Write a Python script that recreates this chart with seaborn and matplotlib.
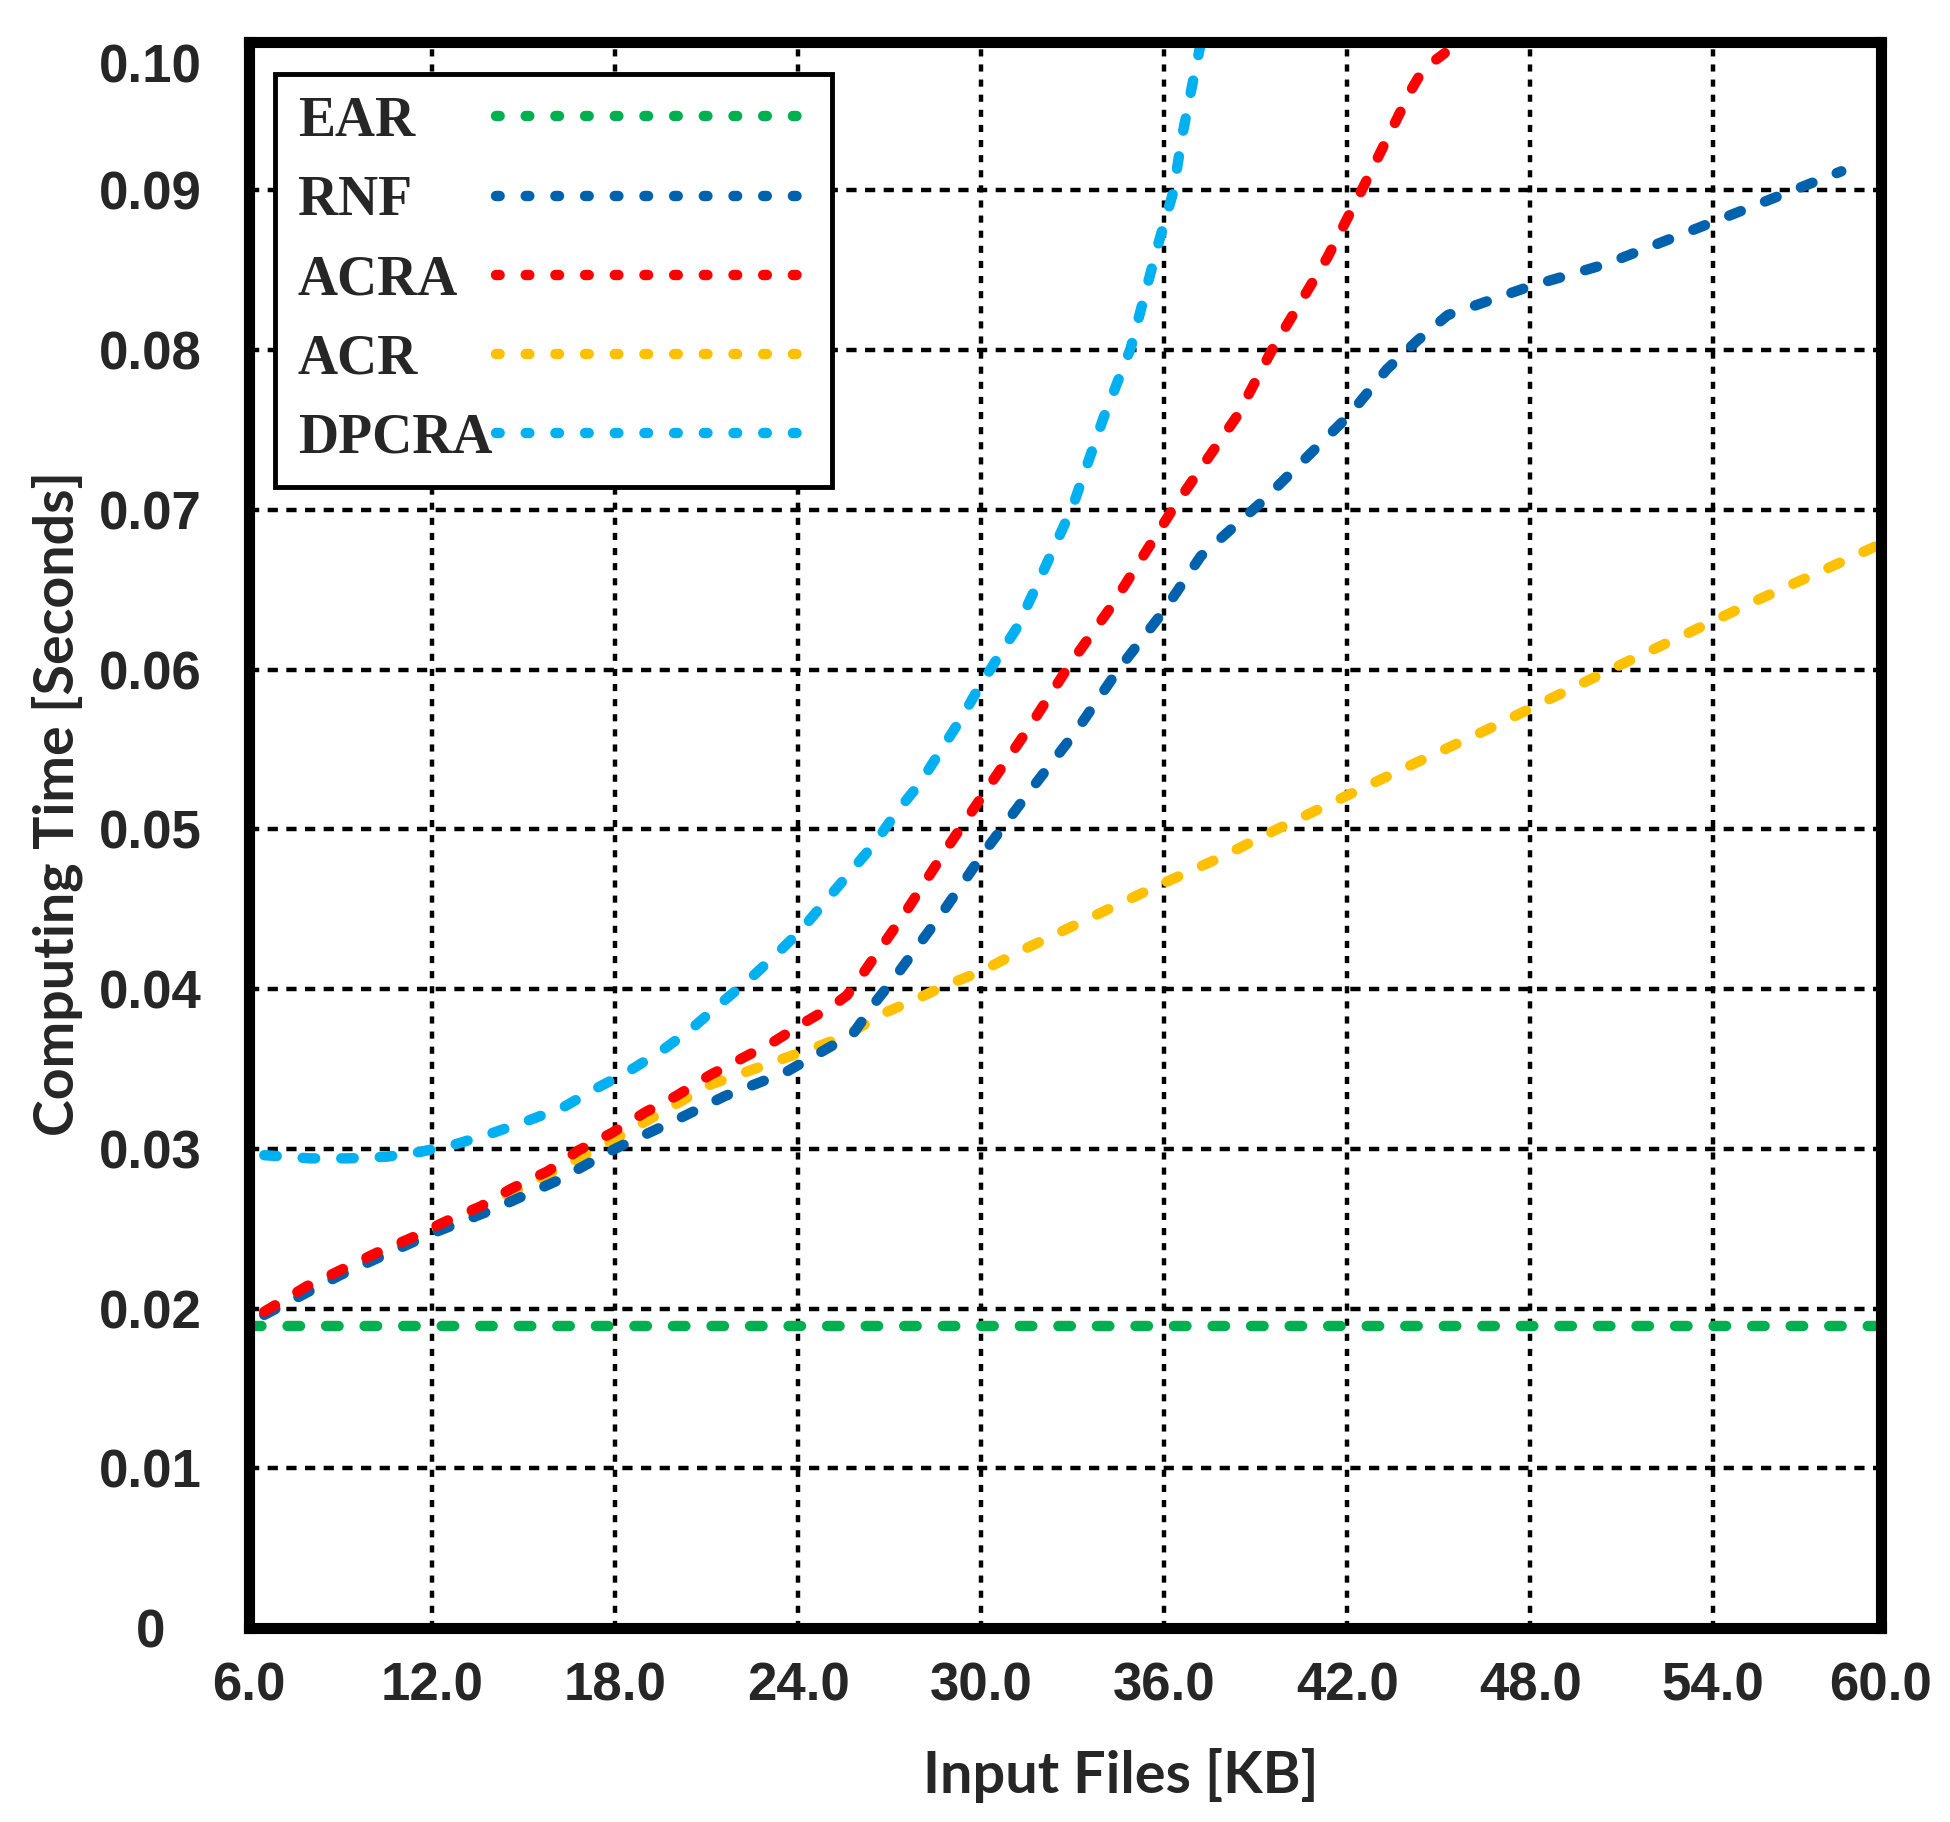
import matplotlib
matplotlib.use("Agg")
import matplotlib.pyplot as plt
import numpy as np
import seaborn as sns

# --- DATA ---
EAR_X = [6.0, 59.5]
EAR_Y = [0.0189, 0.0189]

RNF_X = [6.5, 9.0, 12.0, 14.0, 16.1, 18.0, 20.0, 21.6, 23.6, 24.7, 25.8, 26.5, 27.2,
         28.7, 30.15, 31.6, 33.1, 34.5, 36.0, 37.2, 39.2, 42.05, 43.3, 44.3, 45.3,
         48.0, 50.5, 54.1, 58.2]
RNF_Y = [0.0196, 0.0221, 0.0247, 0.0262, 0.0280, 0.0300, 0.0318, 0.0333, 0.0348, 0.0360,
         0.0372, 0.0391, 0.0408, 0.0447, 0.0487, 0.0524, 0.0561, 0.0600, 0.0637, 0.0671,
         0.0705, 0.0759, 0.0788, 0.0806, 0.0822, 0.0840, 0.0854, 0.0881, 0.0912]

ACRA_X = [6.5, 7.9, 9.0, 10.2, 11.3, 12.5, 13.6, 14.6, 15.8, 16.8, 17.9, 19.0, 20.0,
          21.1, 22.2, 23.2, 24.2, 25.1, 25.6, 26.1, 27.45, 28.84, 30.15, 31.55, 32.9,
          34.25, 36.3, 38.4, 39.56, 41.35, 42.5, 43.74, 44.1, 44.5, 45.2]
ACRA_Y = [0.0198, 0.0214, 0.0224, 0.0235, 0.0244, 0.0255, 0.0264, 0.0275, 0.0286, 0.0299,
          0.0310, 0.0323, 0.0333, 0.0346, 0.0357, 0.0367, 0.0379, 0.0389, 0.0396, 0.0409,
          0.0446, 0.0487, 0.0524, 0.0563, 0.0603, 0.0639, 0.0701, 0.0759, 0.0801, 0.0858,
          0.0901, 0.0949, 0.0963, 0.0976, 0.0986]

ACR_X = [6.5, 9.0, 12.0, 15.0, 17.8, 21.1, 23.3, 24.5, 25.6, 26.7, 27.8, 28.8, 30.0,
         31.2, 33.4, 35.6, 37.8, 39.8, 42.2, 44.4, 46.65, 48.9, 51.07, 53.3, 55.5,
         57.7, 59.3]
ACR_Y = [0.0197, 0.0223, 0.0249, 0.0276, 0.0304, 0.0340, 0.0355, 0.0363, 0.0371, 0.0384,
         0.0393, 0.0402, 0.0411, 0.0423, 0.0443, 0.0463, 0.0482, 0.0501, 0.0523, 0.0543,
         0.0563, 0.0584, 0.0604, 0.0624, 0.0644, 0.0663, 0.0677]

DPCRA_X = [6.5, 8.0, 9.25, 10.5, 11.6, 12.8, 14.0, 15.2, 16.3, 17.4, 18.4, 19.5, 20.5,
           21.4, 22.4, 23.3, 24.1, 24.9, 26.5, 27.2, 28.0, 29.3, 30.0, 31.2, 32.0, 33.0,
           34.0, 34.9, 35.8, 36.3, 36.58, 36.9, 37.2]
DPCRA_Y = [0.0296, 0.0294, 0.0294, 0.0295, 0.0298, 0.0303, 0.0310, 0.0318, 0.0326, 0.0338,
           0.0348, 0.0361, 0.0375, 0.0390, 0.0406, 0.0422, 0.0437, 0.0455, 0.0491, 0.0510,
           0.0529, 0.0568, 0.0591, 0.0627, 0.0660, 0.0702, 0.0757, 0.0801, 0.0866, 0.0899,
           0.0933, 0.0964, 0.0992]

X_TICKS = [6, 12, 18, 24, 30, 36, 42, 48, 54, 59.5]
X_LABELS = ["6.0", "12.0", "18.0", "24.0", "30.0", "36.0", "42.0", "48.0", "54.0", "60.0"]
Y_TICKS = [0, 0.01, 0.02, 0.03, 0.04, 0.05, 0.06, 0.07, 0.08, 0.09, 0.098]
Y_LABELS = ["0", "0.01", "0.02", "0.03", "0.04", "0.05", "0.06", "0.07", "0.08", "0.09", "0.10"]

# drawing order (bottom to top) and legend order differ
SERIES = {
    "EAR": (EAR_X, EAR_Y, "#00B050"),
    "ACR": (ACR_X, ACR_Y, "#FFC000"),
    "RNF": (RNF_X, RNF_Y, "#0061AD"),
    "ACRA": (ACRA_X, ACRA_Y, "#FF0000"),
    "DPCRA": (DPCRA_X, DPCRA_Y, "#00B0F0"),
}
LEGEND_ORDER = ["EAR", "RNF", "ACRA", "ACR", "DPCRA"]

# --- STYLE ---
sns.set_style("white")
plt.rcParams["font.family"] = ["Liberation Sans", "DejaVu Sans"]

fig = plt.figure(figsize=(19.5, 18.22), dpi=100)
ax = fig.add_axes([0.1277, 0.1065, 0.8369, 0.8705])

for name, (xs, ys, col) in SERIES.items():
    sns.lineplot(x=xs, y=ys, ax=ax, color=col, lw=7.5, label=name,
                 linestyle=(0, (1.2, 2.5)), dash_capstyle="round",
                 errorbar=None, sort=False, legend=False, zorder=3)

ax.set_xlim(6, 59.5)
ax.set_ylim(0, 0.0993)
ax.set_xticks(X_TICKS, X_LABELS)
ax.set_yticks(Y_TICKS, Y_LABELS)
ax.tick_params(length=0, labelsize=38)
ax.tick_params(axis="x", pad=24)
ax.tick_params(axis="y", pad=71)
for lbl in ax.get_xticklabels() + ax.get_yticklabels():
    lbl.set_fontweight("bold")
for lbl in ax.get_yticklabels():
    lbl.set_ha("center")

# dotted black grid (vertical dashes a bit shorter than horizontal ones)
ax.grid(True, axis="x", color="black", linestyle=(0, (1.6, 1.8)), linewidth=3.2)
ax.grid(True, axis="y", color="black", linestyle=(0, (2.3, 1.9)), linewidth=3.2)
ax.set_axisbelow(True)
ax.yaxis.get_major_ticks()[-1].gridline.set_visible(False)

for sp in ax.spines.values():
    sp.set_visible(True)
    sp.set_color("black")
    sp.set_linewidth(8)
    sp.set_capstyle("projecting")
    sp.set_zorder(5)

ax.set_xlabel("Input Files [KB]", fontsize=41.5, fontweight="bold", family="Lato")
ax.set_ylabel("Computing Time [Seconds]", fontsize=40, fontweight="bold", family="Lato")
ax.xaxis.set_label_coords(0.534, -0.0757)
ax.yaxis.set_label_coords(-0.102, 0.52)

# legend: text on the left, dotted handle on the right
handles, labels = ax.get_legend_handles_labels()
lookup = dict(zip(labels, handles))
leg = ax.legend([lookup[n] for n in LEGEND_ORDER], LEGEND_ORDER,
                loc="upper left", bbox_to_anchor=(0.0162, 0.980), borderaxespad=0,
                markerfirst=False, handlelength=5.6, handletextpad=0.5,
                labelspacing=0.49, borderpad=0.4, fancybox=False, framealpha=1,
                edgecolor="black",
                prop=dict(family="Liberation Serif", weight="bold", size=40))
leg.get_frame().set_linewidth(3.5)
leg.set_zorder(6)
for ln in leg.get_lines():
    ln.set_linestyle((0, (0.35, 2.5)))
    # stretch the dotted handle closer to the right edge of the box
    xd = np.array(ln.get_xdata(), dtype=float)
    xd[0] -= 2
    xd[-1] += 9
    ln.set_xdata(xd)
for column in leg._legend_handle_box.get_children():
    for item in column.get_children():
        item.mode = "expand"
        item.width = 512

fig.savefig("out.png", dpi=100, facecolor="white")
